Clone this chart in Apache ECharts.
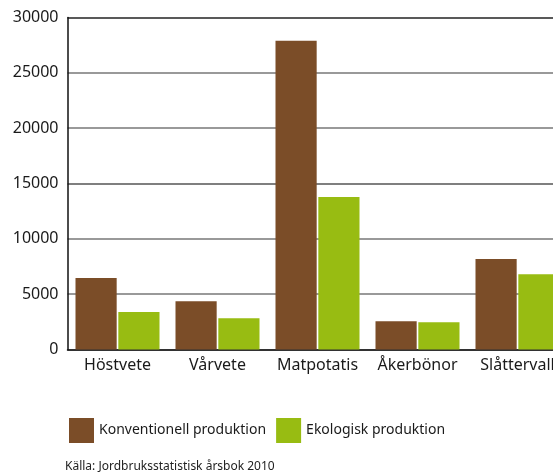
<!DOCTYPE html>
<html><head><meta charset="utf-8">
<script src="https://cdn.jsdelivr.net/npm/echarts@6/dist/echarts.min.js"></script>
<style>html,body{margin:0;padding:0;background:#fff}#c{width:553px;height:475px}</style>
</head><body><div id="c"></div>
<script>
const categories = ['Höstvete', 'Vårvete', 'Matpotatis', 'Åkerbönor', 'Slåttervall'];
const konventionell = [6450, 4370, 27900, 2560, 8170];
const ekologisk = [3380, 2830, 13780, 2470, 6810];
const seriesNames = ['Konventionell produktion', 'Ekologisk produktion'];
const sourceText = 'Källa: Jordbruksstatistisk årsbok 2010';

const font = '"Noto Sans", sans-serif';
const chart = echarts.init(document.getElementById('c'), null, {renderer: 'canvas'});
chart.setOption({
  animation: false,
  backgroundColor: '#fff',
  grid: {left: 67.5, top: 17.5, width: 500, height: 332, outerBoundsMode: 'none', containLabel: false},
  xAxis: {
    type: 'category', data: categories,
    axisLine: {lineStyle: {color: '#111', width: 1.5}},
    axisTick: {show: false},
    axisLabel: {color: '#1a1a1a', fontSize: 16, fontFamily: font, margin: 8, interval: 0}
  },
  yAxis: {
    type: 'value', min: 0, max: 30000, interval: 5000,
    axisLine: {show: true, lineStyle: {color: '#111', width: 1.5}},
    axisTick: {show: false},
    axisLabel: {color: '#1a1a1a', fontSize: 16, fontFamily: font, margin: 9, formatter: v => String(v)},
    splitLine: {lineStyle: {color: ['#777', '#777', '#777', '#555', '#777', '#777', '#222'], width: 1.5}}
  },
  legend: {
    left: 64, top: 413, itemWidth: 25, itemHeight: 25, itemGap: 10,
    icon: 'rect',
    textStyle: {color: '#1a1a1a', fontSize: 14, fontFamily: font},
    data: seriesNames
  },
  graphic: [{
    type: 'text', left: 65, top: 461,
    style: {text: sourceText, fill: '#222', font: '12px ' + font}
  }],
  series: [
    {name: seriesNames[0], type: 'bar', data: konventionell, itemStyle: {color: '#7b4d28'},
     barGap: '4%', barCategoryGap: '16%'},
    {name: seriesNames[1], type: 'bar', data: ekologisk, itemStyle: {color: '#98bc12'}}
  ]
});
</script></body></html>
